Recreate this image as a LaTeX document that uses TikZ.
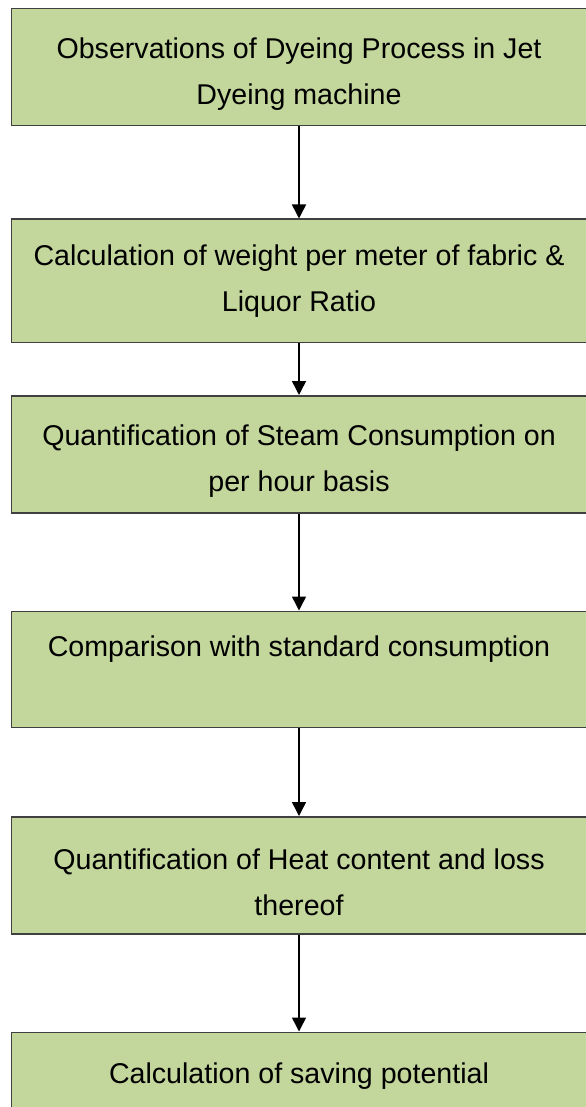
\documentclass[tikz,border=0pt]{standalone}
\usepackage{fontspec}
\setmainfont{Liberation Sans}
\usepackage{tikz}
\usetikzlibrary{arrows.meta,positioning}

\definecolor{boxgreen}{HTML}{C3D69B}
\definecolor{boxline}{HTML}{404040}
\newcommand{\lift}[1][17pt]{\rule{0pt}{#1}}

\begin{document}
\begin{tikzpicture}[
    box/.style={rectangle, draw=boxline, line width=0.75pt, fill=boxgreen, minimum width=287.75pt, minimum height=58.5pt, inner sep=0pt, align=center, font=\fontsize{14.3}{23}\selectfont},
    arrow/.style={-{Triangle[width=7pt,length=7pt]}, line width=0.75pt, black}
]
\useasboundingbox (0,0) rectangle (292.5pt,-553.5pt);
\node[box, anchor=north west] (obs) at (5.25pt,-4pt) {\lift Observations of Dyeing Process in Jet\\Dyeing machine};
\node[box, minimum height=61.5pt, below=46pt of obs] (calc) {Calculation of weight per meter of fabric \&\\Liquor Ratio};
\node[box, below=26pt of calc] (steam) {\lift Quantification of Steam Consumption on\\per hour basis};
\node[box, minimum height=58pt, below=48.5pt of steam] (compare) {\lift Comparison with standard consumption\\\strut};
\node[box, below=44pt of compare] (heat) {\lift Quantification of Heat content and loss\\thereof};
\node[box, below=48.5pt of heat] (saving) {\lift[23pt]Calculation of saving potential\\\strut};

\draw[arrow] (obs) -- (calc);
\draw[arrow] (calc) -- (steam);
\draw[arrow] (steam) -- (compare);
\draw[arrow] (compare) -- (heat);
\draw[arrow] (heat) -- (saving);
\end{tikzpicture}
\end{document}
